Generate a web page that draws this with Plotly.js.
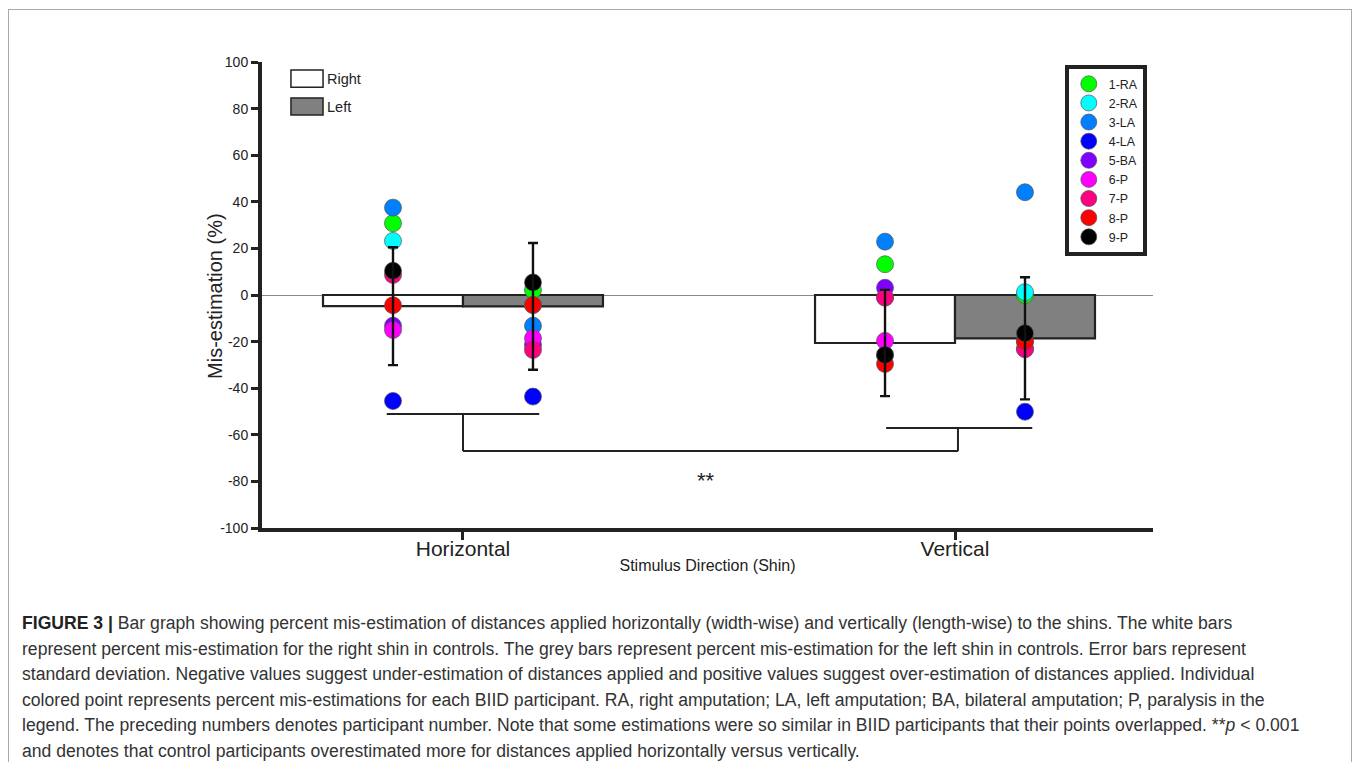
<!DOCTYPE html>
<html>
<head>
<meta charset="utf-8">
<script src="https://cdn.plot.ly/plotly-3.0.1.min.js"></script>
<style>
  html, body { margin: 0; padding: 0; background: #fff; width: 1354px; height: 762px; overflow: hidden; }
  #frame { position: absolute; left: 8px; top: 9px; width: 1344px; height: 800px;
           border-top: 1px solid #aaa; border-left: 1px solid #aaa; border-right: 1px solid #aaa; box-sizing: border-box; }
  #chart { position: absolute; left: 0; top: 0; width: 1354px; height: 590px; }
  #caption { position: absolute; left: 22px; top: 611px; width: 1320px;
             font-family: "Liberation Sans", Arial, sans-serif; font-size: 17.6px; line-height: 25.5px; color: #333; white-space: nowrap; }
  #caption b { color: #222; }
</style>
</head>
<body>
<div id="frame"></div>
<div id="chart"></div>
<div id="caption">
<div><b>FIGURE 3 |</b> Bar graph showing percent mis-estimation of distances applied horizontally (width-wise) and vertically (length-wise) to the shins. The white bars</div>
<div>represent percent mis-estimation for the right shin in controls. The grey bars represent percent mis-estimation for the left shin in controls. Error bars represent</div>
<div>standard deviation. Negative values suggest under-estimation of distances applied and positive values suggest over-estimation of distances applied. Individual</div>
<div>colored point represents percent mis-estimations for each BIID participant. RA, right amputation; LA, left amputation; BA, bilateral amputation; P, paralysis in the</div>
<div>legend. The preceding numbers denotes participant number. Note that some estimations were so similar in BIID participants that their points overlapped. **<i>p</i> &lt; 0.001</div>
<div>and denotes that control participants overestimated more for distances applied horizontally versus vertically.</div>
</div>
<script>
// ---- data ----
const categories = ['Horizontal', 'Vertical'];
const rightMeans = [-4.8, -20.6];
const rightSD = [25.3, 22.8];
const leftMeans = [-4.9, -18.6];
const leftSD = [27.2, 26.2];

const yTickVals = [-100, -80, -60, -40, -20, 0, 20, 40, 60, 80, 100];
const yTickLabels = ['-100', '-80', '-60', '-40', '-20', '0', '20', '40', '60', '80', '100'];

const participants = ['1-RA', '2-RA', '3-LA', '4-LA', '5-BA', '6-P', '7-P', '8-P', '9-P'];
const participantColors = ['#00ff00', '#00ffff', '#0080ff', '#0000ff', '#8000ff', '#ff00ff', '#ff0080', '#ff0000', '#000000'];
// values per participant: [Horizontal-Right, Horizontal-Left, Vertical-Right, Vertical-Left]
const p1RA = [30.8, 2.1, 13.2, 0.0];
const p2RA = [23.2, -4.3, -1.1, 1.2];
const p3LA = [37.5, -13.2, 22.9, 44.1];
const p4LA = [-45.5, -43.6, -25.7, -50.1];
const p5BA = [-13.2, -21.5, 3.1, -20.0];
const p6P = [-15.0, -18.6, -19.7, -23.2];
const p7P = [8.6, -23.6, -1.1, -23.2];
const p8P = [-4.4, -4.3, -29.6, -20.0];
const p9P = [10.4, 5.4, -25.7, -16.4];
const participantValues = [p1RA, p2RA, p3LA, p4LA, p5BA, p6P, p7P, p8P, p9P];

const sigLabel = '**';
const yTitle = 'Mis-estimation (%)';

// ---- layout helpers ----
const bargap = 0.431;
const barW = (1 - bargap) / 2;
const catIdx = categories.map((c, i) => i);
const rightX = catIdx.map(i => i - barW / 2);
const leftX = catIdx.map(i => i + barW / 2);
const pointX = [rightX[0], leftX[0], rightX[1], leftX[1]];

const dark = '#222';
const traces = [];
traces.push({
  type: 'bar', name: 'Right', x: catIdx, y: rightMeans, offsetgroup: 'R',
  marker: { color: '#ffffff', line: { color: dark, width: 2.2 } }, showlegend: false
});
traces.push({
  type: 'bar', name: 'Left', x: catIdx, y: leftMeans, offsetgroup: 'L',
  marker: { color: '#808080', line: { color: dark, width: 2.2 } }, showlegend: false
});
participants.forEach((p, k) => {
  traces.push({
    type: 'scatter', mode: 'markers', name: p, x: pointX, y: participantValues[k],
    marker: { size: 17, color: participantColors[k], line: { color: '#555', width: 0.7 } }
  });
});
// error bars on top of points
traces.push({
  type: 'scatter', mode: 'markers', x: rightX, y: rightMeans, showlegend: false,
  marker: { size: 1, opacity: 0 },
  error_y: { type: 'data', array: rightSD, visible: true, color: '#111', thickness: 2.4, width: 5 }
});
traces.push({
  type: 'scatter', mode: 'markers', x: leftX, y: leftMeans, showlegend: false,
  marker: { size: 1, opacity: 0 },
  error_y: { type: 'data', array: leftSD, visible: true, color: '#111', thickness: 2.4, width: 5 }
});

const bl = { color: dark, width: 2 };
const shapes = [
  // significance bracket
  { type: 'line', x0: -0.155, x1: 0.155, y0: -51.1, y1: -51.1, line: bl },
  { type: 'line', x0: 0, x1: 0, y0: -51.1, y1: -67, line: bl },
  { type: 'line', x0: 0, x1: 1.006, y0: -67, y1: -67, line: bl },
  { type: 'line', x0: 1.006, x1: 1.006, y0: -67, y1: -57.1, line: bl },
  { type: 'line', x0: 0.86, x1: 1.157, y0: -57.1, y1: -57.1, line: bl },
  // Right/Left legend boxes
  { type: 'rect', xref: 'paper', yref: 'paper', x0: 0.0325, x1: 0.0685, y0: 0.946, y1: 0.983,
    fillcolor: '#ffffff', line: { color: dark, width: 1.5 } },
  { type: 'rect', xref: 'paper', yref: 'paper', x0: 0.0325, x1: 0.0685, y0: 0.886, y1: 0.923,
    fillcolor: '#808080', line: { color: dark, width: 1.5 } }
];
const annotations = [
  { x: 0.493, y: -79.5, text: sigLabel, showarrow: false, font: { size: 22, color: dark } },
  { xref: 'paper', yref: 'paper', x: 0.0705, y: 0.9645, xanchor: 'left', yanchor: 'middle',
    text: 'Right', showarrow: false, font: { size: 14.5, color: dark } },
  { xref: 'paper', yref: 'paper', x: 0.0705, y: 0.9045, xanchor: 'left', yanchor: 'middle',
    text: 'Left', showarrow: false, font: { size: 14.5, color: dark } },
  { xref: 'paper', yref: 'paper', x: -0.0527, y: 0.498, xanchor: 'center', yanchor: 'middle',
    textangle: -90, text: yTitle, showarrow: false, font: { size: 20, color: dark } }
];

const layout = {
  width: 1354, height: 590,
  margin: { l: 262, r: 201, t: 62, b: 62 },
  paper_bgcolor: 'rgba(0,0,0,0)', plot_bgcolor: 'rgba(0,0,0,0)',
  font: { family: '"Liberation Sans", Arial, sans-serif', color: dark },
  barmode: 'group', bargap: bargap, bargroupgap: 0,
  showlegend: true,
  legend: {
    x: 0.901, y: 0.993, xanchor: 'left', yanchor: 'top',
    bgcolor: '#ffffff', bordercolor: dark, borderwidth: 4,
    font: { size: 12.4, color: dark }
  },
  xaxis: {
    range: [-0.4085, 1.4024], tickvals: catIdx, ticktext: categories,
    showline: true, linecolor: dark, linewidth: 4, ticks: 'outside', ticklen: 8, tickwidth: 3, tickcolor: dark,
    ticklabelstandoff: -9,
    tickfont: { size: 21, color: dark }, showgrid: false, zeroline: false,
    title: { text: 'Stimulus Direction (Shin)', font: { size: 16, color: dark }, standoff: 2 }
  },
  yaxis: {
    range: [-100, 100], tickvals: yTickVals, ticktext: yTickLabels,
    showline: true, linecolor: dark, linewidth: 4, ticks: 'outside', ticklen: 7, tickwidth: 3, tickcolor: dark,
    tickfont: { size: 14, color: dark }, showgrid: false,
    zeroline: true, zerolinecolor: '#888', zerolinewidth: 1,
    title: { text: '' }
  },
  shapes: shapes, annotations: annotations
};

Plotly.newPlot('chart', traces, layout, { staticPlot: true, displayModeBar: false });
</script>
</body>
</html>
